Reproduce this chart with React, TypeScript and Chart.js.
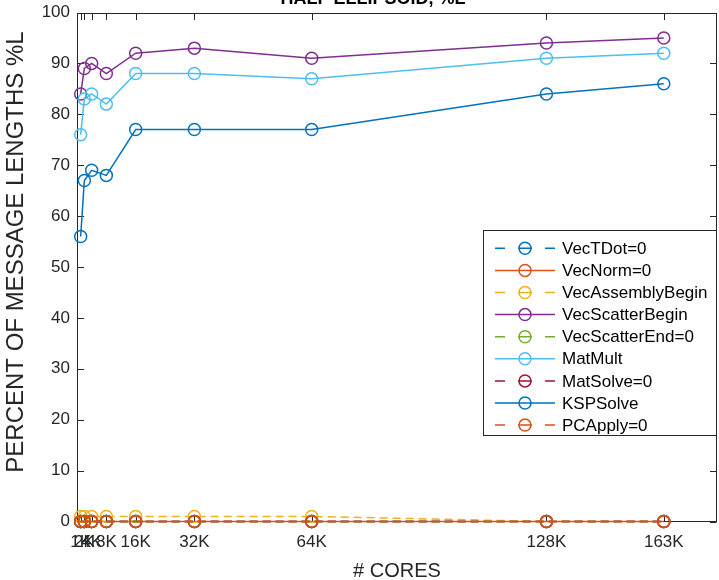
import React, { useEffect, useRef } from "react";
import { Chart, registerables } from "chart.js";
Chart.register(...registerables);

const FONT = "'Liberation Sans', Arial, Helvetica, sans-serif";
const INK = "#262626";

const cores = [1024, 2048, 4096, 8192, 16384, 32768, 65536, 131072, 163840];
const coreLabels = ["1K", "2K", "4K", "8K", "16K", "32K", "64K", "128K", "163K"];
const yTickValues = [0, 10, 20, 30, 40, 50, 60, 70, 80, 90, 100];

const vecTDot = [0, 0, 0, 0, 0, 0, 0, 0, 0];
const vecNorm = [0, 0, 0, 0, 0, 0, 0, 0, 0];
const vecAssemblyBegin = [1, 1, 1, 1, 1, 1, 1, 0, 0];
const vecScatterBegin = [84, 89, 90, 88, 92, 93, 91, 94, 95];
const vecScatterEnd = [0, 0, 0, 0, 0, 0, 0, 0, 0];
const matMult = [76, 83, 84, 82, 88, 88, 87, 91, 92];
const matSolve = [0, 0, 0, 0, 0, 0, 0, 0, 0];
const kspSolve = [56, 67, 69, 68, 77, 77, 77, 84, 86];
const pcApply = [0, 0, 0, 0, 0, 0, 0, 0, 0];

const seriesNames = [
  "VecTDot=0",
  "VecNorm=0",
  "VecAssemblyBegin",
  "VecScatterBegin",
  "VecScatterEnd=0",
  "MatMult",
  "MatSolve=0",
  "KSPSolve",
  "PCApply=0",
];
const seriesValues = [
  vecTDot,
  vecNorm,
  vecAssemblyBegin,
  vecScatterBegin,
  vecScatterEnd,
  matMult,
  matSolve,
  kspSolve,
  pcApply,
];
const seriesColors = [
  "#0072BD",
  "#D95319",
  "#EDB120",
  "#7E2F8E",
  "#77AC30",
  "#4DBEEE",
  "#A2142F",
  "#0072BD",
  "#D95319",
];
const seriesDashed = [true, false, true, false, true, false, true, false, true];

const titleText = "HALF ELLIPSOID, %L";
const xTitle = "# CORES";
const yTitle = "PERCENT OF MESSAGE LENGTHS %L";

const framePlugin = {
  id: "frame",
  beforeDatasetsDraw(chart: any) {
    const { ctx, chartArea: a, scales } = chart;
    const L = Math.round(a.left) + 0.5;
    const R = Math.round(a.right) - 0.5;
    const T = Math.round(a.top) + 0.5;
    const B = Math.round(a.bottom) - 0.5;
    ctx.save();
    ctx.strokeStyle = INK;
    ctx.lineWidth = 1;
    ctx.strokeRect(L, T, R - L, B - T);
    const tl = 6.5;
    ctx.beginPath();
    scales.x.ticks.forEach((t: any) => {
      const x = Math.round(scales.x.getPixelForValue(t.value)) + 0.5;
      ctx.moveTo(x, B);
      ctx.lineTo(x, B - tl);
      ctx.moveTo(x, T);
      ctx.lineTo(x, T + tl);
    });
    scales.y.ticks.forEach((t: any) => {
      const y = Math.round(scales.y.getPixelForValue(t.value)) + 0.5;
      ctx.moveTo(L, y);
      ctx.lineTo(L + tl, y);
      ctx.moveTo(R, y);
      ctx.lineTo(R - tl, y);
    });
    ctx.stroke();
    ctx.restore();
  },
};

const textPlugin = {
  id: "texts",
  afterDraw(chart: any) {
    const { ctx } = chart;
    ctx.save();
    ctx.font = `bold 18px ${FONT}`;
    ctx.fillStyle = "#000";
    ctx.textAlign = "center";
    ctx.textBaseline = "alphabetic";
    ctx.fillText(titleText, 373, 3.5);
    ctx.translate(16, 252);
    ctx.rotate(-Math.PI / 2);
    ctx.font = `24px ${FONT}`;
    ctx.fillStyle = INK;
    ctx.textBaseline = "middle";
    ctx.fillText(yTitle, 0, 0);
    ctx.restore();
  },
};

const legendPlugin = {
  id: "boxLegend",
  afterDraw(chart: any) {
    const { ctx } = chart;
    const left = 483.5;
    const top = 230.5;
    const w = 233;
    const h = 205;
    const rowH = 22.1;
    const firstY = 248.3;
    ctx.save();
    ctx.fillStyle = "#fff";
    ctx.fillRect(left, top, w, h);
    ctx.strokeStyle = INK;
    ctx.lineWidth = 1;
    ctx.strokeRect(left, top, w, h);
    chart.data.datasets.forEach((ds: any, i: number) => {
      const cy = firstY + i * rowH;
      ctx.strokeStyle = ds.borderColor;
      ctx.lineWidth = 1.5;
      ctx.setLineDash([]);
      ctx.beginPath();
      if (seriesDashed[i]) {
        ctx.moveTo(495, cy);
        ctx.lineTo(505, cy);
        ctx.moveTo(518, cy);
        ctx.lineTo(532, cy);
        ctx.moveTo(545, cy);
        ctx.lineTo(555, cy);
      } else {
        ctx.moveTo(495, cy);
        ctx.lineTo(555, cy);
      }
      ctx.stroke();
      ctx.beginPath();
      ctx.arc(525, cy, 6, 0, Math.PI * 2);
      ctx.stroke();
      ctx.fillStyle = "#000";
      ctx.font = `17px ${FONT}`;
      ctx.textAlign = "left";
      ctx.textBaseline = "middle";
      ctx.fillText(ds.label, 562, cy + 1);
    });
    ctx.restore();
  },
};

export default function App() {
  const ref = useRef<HTMLCanvasElement>(null);
  useEffect(() => {
    const n = seriesNames.length;
    const datasets = seriesNames.map((name, i) => ({
      label: name,
      data: cores.map((c, j) => ({ x: c, y: seriesValues[i][j] })),
      borderColor: seriesColors[i],
      backgroundColor: "transparent",
      borderWidth: 1.5,
      borderDash: seriesDashed[i] ? [8, 5] : [],
      pointRadius: 6,
      pointHoverRadius: 6,
      pointBorderWidth: 1.5,
      pointBorderColor: seriesColors[i],
      pointBackgroundColor: "transparent",
      tension: 0,
      fill: false,
      clip: false as any,
      order: n - i,
    }));
    const chart = new Chart(ref.current as HTMLCanvasElement, {
      type: "line",
      data: { datasets } as any,
      options: {
        animation: false,
        responsive: false,
        events: [],
        layout: { autoPadding: false, padding: { top: 12.5, right: 2, left: 0, bottom: 0 } },
        plugins: {
          legend: { display: false },
          tooltip: { enabled: false },
          title: { display: false },
        },
        scales: {
          x: {
            type: "linear",
            min: 0,
            max: 178700,
            afterBuildTicks: (s: any) => {
              s.ticks = cores.map((v) => ({ value: v }));
            },
            afterFit: (s: any) => {
              s.height = 58.5;
              s.paddingLeft = 0;
              s.paddingRight = 0;
            },
            grid: { display: false, drawTicks: false },
            border: { display: false },
            ticks: {
              autoSkip: false,
              maxRotation: 0,
              minRotation: 0,
              padding: 11,
              color: INK,
              font: { family: FONT, size: 17 },
              callback: (v: any) => {
                const k = cores.indexOf(Number(v));
                return k >= 0 ? coreLabels[k] : "";
              },
            },
            title: {
              display: true,
              text: xTitle,
              color: INK,
              font: { family: FONT, size: 20, lineHeight: 1 },
              padding: { top: 0, bottom: -1 },
            },
          },
          y: {
            type: "linear",
            min: 0,
            max: 100,
            afterBuildTicks: (s: any) => {
              s.ticks = yTickValues.map((v) => ({ value: v }));
            },
            afterFit: (s: any) => {
              s.width = 77;
              s.paddingTop = 0;
              s.paddingBottom = 0;
            },
            grid: { display: false, drawTicks: false },
            border: { display: false },
            ticks: {
              padding: 7,
              color: INK,
              font: { family: FONT, size: 17 },
            },
            title: { display: false },
          },
        },
      } as any,
      plugins: [framePlugin, textPlugin, legendPlugin],
    });
    return () => chart.destroy();
  }, []);
  return (
    <div
      style={{
        position: "absolute",
        left: 0,
        top: 0,
        width: 719,
        height: 580,
        background: "#fff",
      }}
    >
      <canvas ref={ref} width={719} height={580} style={{ display: "block" }} />
    </div>
  );
}
